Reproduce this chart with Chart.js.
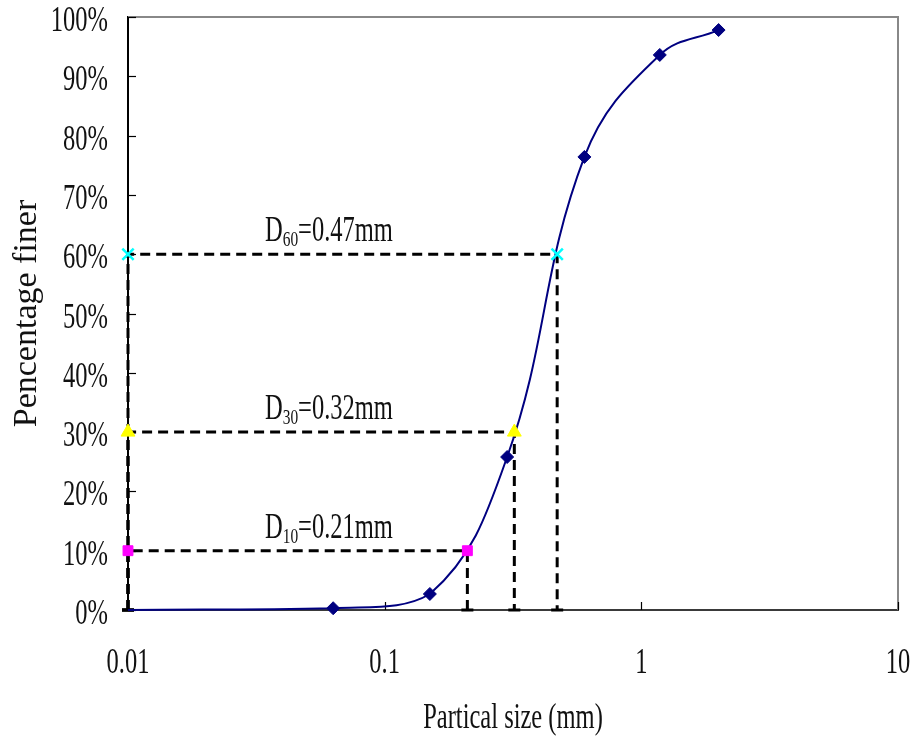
<!DOCTYPE html>
<html><head><meta charset="utf-8">
<script src="https://cdn.jsdelivr.net/npm/chart.js@4"></script>
<style>html,body{margin:0;padding:0;background:#fff}#wrap{width:912px;height:737px;position:relative}</style>
</head><body><div id="wrap"><canvas id="c"></canvas></div>
<script>
// ---- data ----
const particleSize = [0.01, 0.063, 0.15, 0.3, 0.6, 1.18, 2.0];
const percentFiner = [0, 0.3, 2.7, 25.8, 76.4, 93.6, 97.8];
const dSubs = ['10', '30', '60'];
const dPercent = [10, 30, 60];
const dSize = [0.21, 0.32, 0.47];
const dValueText = ['=0.21mm', '=0.32mm', '=0.47mm'];
const xTickValues = [0.01, 0.1, 1, 10];
const xTickLabels = ['0.01', '0.1', '1', '10'];
const yTickValues = [0, 10, 20, 30, 40, 50, 60, 70, 80, 90, 100];
const yTickLabels = ['0%', '10%', '20%', '30%', '40%', '50%', '60%', '70%', '80%', '90%', '100%'];
const xTitle = 'Partical size (mm)';
const yTitle = 'Pencentage finer';
const xMin = 0.01, xMax = 10, yMin = 0, yMax = 100;

// ---- styles ----
const FONT = "'Liberation Serif', 'Times New Roman', serif";
const markerStyles = ['rect', 'triangle', 'crossRot'];
const markerColors = ['#FF00FF', '#FFFF00', '#00FFFF'];
const markerRadius = [7, 8, 8];

const datasets = [];
datasets.push({
  label: 'curve',
  data: particleSize.map((s, i) => ({ x: s, y: percentFiner[i] })),
  borderColor: '#000080', backgroundColor: '#000080',
  borderWidth: 2, tension: 0.4, fill: false,
  pointStyle: 'rectRot',
  pointRadius: c => c.dataIndex === 0 ? 0 : 6.5,
  pointBackgroundColor: '#000080', pointBorderColor: '#000080', pointBorderWidth: 1,
  clip: false, order: 1
});
dSize.forEach((d, i) => {
  const p = dPercent[i];
  datasets.push({
    label: 'D' + dSubs[i] + ' guide',
    data: [{ x: xMin, y: yMin }, { x: xMin, y: p }, { x: d, y: p }, { x: d, y: yMin }],
    borderColor: '#000', borderWidth: 3, borderDash: [10, 6], tension: 0, fill: false,
    pointStyle: 'line', pointRadius: [6, 0, 0, 6], pointBorderColor: '#000', pointBorderWidth: 3,
    clip: false, order: 2
  });
  datasets.push({
    label: 'D' + dSubs[i],
    data: [{ x: xMin, y: p }, { x: d, y: p }],
    showLine: false,
    pointStyle: markerStyles[i], pointRadius: markerRadius[i],
    pointBackgroundColor: markerColors[i], pointBorderColor: markerColors[i],
    pointBorderWidth: markerStyles[i] === 'crossRot' ? 2.5 : 1,
    clip: false, order: 0
  });
});

function sText(ctx, txt, x, y, size, sx, align) {
  ctx.save();
  ctx.font = size + 'px ' + FONT;
  ctx.textAlign = align; ctx.textBaseline = 'alphabetic';
  ctx.fillStyle = '#111';
  ctx.translate(x, y); ctx.scale(sx, 1);
  ctx.fillText(txt, 0, 0);
  ctx.restore();
}
function tWidth(ctx, txt, size, sx) {
  ctx.save(); ctx.font = size + 'px ' + FONT;
  const w = ctx.measureText(txt).width * sx; ctx.restore(); return w;
}

const SX = 0.7, FS = 35;
const decor = {
  id: 'decor',
  beforeDatasetsDraw(chart) {
    const { ctx, chartArea: a, scales: { x, y } } = chart;
    ctx.save();
    // top/right frame
    ctx.strokeStyle = '#888'; ctx.lineWidth = 2;
    ctx.beginPath(); ctx.moveTo(a.left, a.top); ctx.lineTo(a.right, a.top); ctx.lineTo(a.right, a.bottom); ctx.stroke();
    // tick marks (inward)
    ctx.strokeStyle = '#000'; ctx.lineWidth = 1.2;
    yTickValues.forEach(v => {
      const py = Math.round(y.getPixelForValue(v)) + 0.5;
      ctx.beginPath(); ctx.moveTo(a.left, py); ctx.lineTo(a.left + 8, py); ctx.stroke();
    });
    xTickValues.forEach(v => {
      const px = Math.round(x.getPixelForValue(v)) + 0.5;
      ctx.beginPath(); ctx.moveTo(px, a.bottom); ctx.lineTo(px, a.bottom - 8); ctx.stroke();
    });
    ctx.restore();
  },
  afterDraw(chart) {
    const { ctx, chartArea: a, scales: { x, y } } = chart;
    // tick labels
    yTickValues.forEach((v, i) => {
      sText(ctx, yTickLabels[i], a.left - 20, y.getPixelForValue(v) + 14, FS, SX, 'right');
    });
    xTickValues.forEach((v, i) => {
      sText(ctx, xTickLabels[i], x.getPixelForValue(v), a.bottom + 63, FS, SX, 'center');
    });
    // axis titles
    sText(ctx, xTitle, (a.left + a.right) / 2, a.bottom + 118, FS, SX, 'center');
    ctx.save();
    ctx.translate(36, (a.top + a.bottom) / 2);
    ctx.rotate(-Math.PI / 2);
    sText(ctx, yTitle, 0, 0, 34, 1, 'center');
    ctx.restore();
    // D labels
    dSize.forEach((d, i) => {
      let px = a.left + 137;
      const base = y.getPixelForValue(dPercent[i]) - 13;
      sText(ctx, 'D', px, base, FS, SX, 'left');
      px += tWidth(ctx, 'D', FS, SX);
      sText(ctx, dSubs[i], px, base + 5, 22, SX, 'left');
      px += tWidth(ctx, dSubs[i], 22, SX);
      sText(ctx, dValueText[i], px, base, FS, SX, 'left');
    });
  }
};

new Chart(document.getElementById('c'), {
  type: 'line',
  data: { datasets },
  options: {
    responsive: true, maintainAspectRatio: false, animation: false,
    layout: { padding: { left: 128, right: 14, top: 17, bottom: 127 } },
    plugins: { legend: { display: false }, tooltip: { enabled: false } },
    scales: {
      x: { type: 'logarithmic', min: xMin, max: xMax,
           grid: { display: false, drawTicks: false },
           border: { display: true, color: '#3a3a3a', width: 2 },
           ticks: { display: false } },
      y: { type: 'linear', min: yMin, max: yMax,
           grid: { display: false, drawTicks: false },
           border: { display: true, color: '#000', width: 2 },
           ticks: { display: false, stepSize: 10 } }
    }
  },
  plugins: [decor]
});
</script>
</body></html>
